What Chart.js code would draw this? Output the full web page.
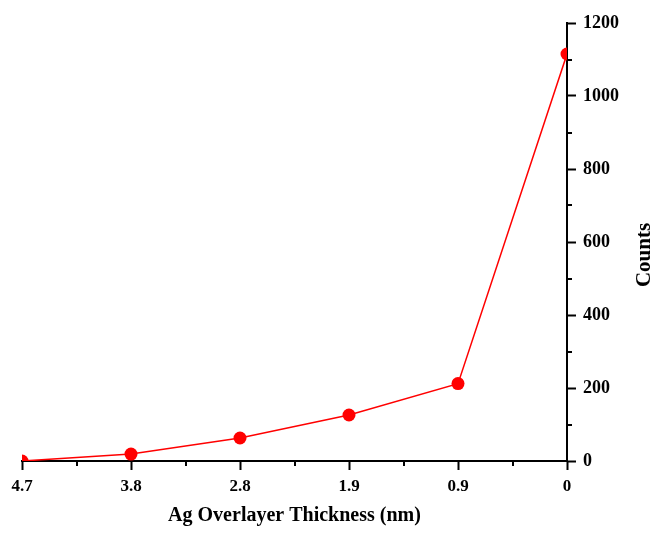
<!DOCTYPE html>
<html>
<head>
<meta charset="utf-8">
<script src="https://cdn.jsdelivr.net/npm/chart.js@4/dist/chart.umd.min.js"></script>
<style>
  html, body { margin: 0; padding: 0; background: #ffffff; }
  #wrap { width: 655px; height: 534px; }
</style>
</head>
<body>
<div id="wrap"><canvas id="c" width="655" height="534"></canvas></div>
<script>
// Data
const categories = ['4.7', '3.8', '2.8', '1.9', '0.9', '0'];
const counts = [0, 19, 63, 126, 212, 1115];
const yMin = 0;
const yMax = 1200;
const yStep = 200;
const xTitle = 'Ag Overlayer Thickness (nm)';
const yTitle = 'Counts';

const FONT = '"Liberation Serif", "Times New Roman", serif';

const extras = {
  id: 'extras',
  afterDraw(chart) {
    const ctx = chart.ctx;
    const xs = chart.scales.x;
    const ys = chart.scales.y;
    const area = chart.chartArea;
    ctx.save();
    ctx.strokeStyle = '#000';
    ctx.lineWidth = 2;
    // minor ticks on y axis (midway between major ticks)
    for (let v = yMin + yStep / 2; v < yMax; v += yStep) {
      const py = Math.round(ys.getPixelForValue(v));
      ctx.beginPath();
      ctx.moveTo(area.right, py);
      ctx.lineTo(area.right + 5, py);
      ctx.stroke();
    }
    // minor ticks on x axis (midway between categories)
    for (let i = 0; i < categories.length - 1; i++) {
      const px = Math.round((xs.getPixelForTick(i) + xs.getPixelForTick(i + 1)) / 2);
      ctx.beginPath();
      ctx.moveTo(px, area.bottom);
      ctx.lineTo(px, area.bottom + 5);
      ctx.stroke();
    }
    // y axis title, reading bottom to top, on the right
    ctx.translate(645, 255);
    ctx.rotate(-Math.PI / 2);
    ctx.fillStyle = '#000';
    ctx.font = 'bold 21px ' + FONT;
    ctx.textAlign = 'center';
    ctx.textBaseline = 'middle';
    ctx.fillText(yTitle, 0, 0);
    ctx.restore();
  }
};

new Chart(document.getElementById('c'), {
  type: 'line',
  data: {
    labels: categories,
    datasets: [{
      data: counts,
      borderColor: '#ff0000',
      backgroundColor: '#ff0000',
      borderWidth: 1.5,
      pointRadius: 6.5,
      pointBorderWidth: 0,
      pointBackgroundColor: '#ff0000',
      tension: 0,
      clip: 0
    }]
  },
  options: {
    responsive: false,
    animation: false,
    events: [],
    layout: { padding: { left: 22, top: 23, right: 0, bottom: 0 } },
    plugins: { legend: { display: false }, tooltip: { enabled: false } },
    scales: {
      x: {
        type: 'category',
        offset: false,
        grid: { drawOnChartArea: false, drawTicks: true, tickLength: 9, tickWidth: 2, tickColor: '#000' },
        border: { display: true, color: '#000', width: 2 },
        ticks: { color: '#000', padding: 6, maxRotation: 0, autoSkip: false, font: { family: FONT, size: 17, weight: 'bold' } },
        title: { display: true, text: xTitle, color: '#000', padding: { top: 4, bottom: 4 }, font: { family: FONT, size: 20, weight: 'bold', lineHeight: 1.4 } },
        afterFit(scale) { scale.height = 73; }
      },
      y: {
        position: 'right',
        min: yMin,
        max: yMax,
        grid: { drawOnChartArea: false, drawTicks: true, tickLength: 9, tickWidth: 2, tickColor: '#000' },
        border: { display: true, color: '#000', width: 2 },
        ticks: {
          stepSize: yStep, color: '#000', padding: 7,
          font: { family: FONT, size: 18, weight: 'bold' },
          callback: (v) => String(v)
        },
        afterFit(scale) { scale.width = 88; }
      }
    }
  },
  plugins: [extras]
});
</script>
</body>
</html>
